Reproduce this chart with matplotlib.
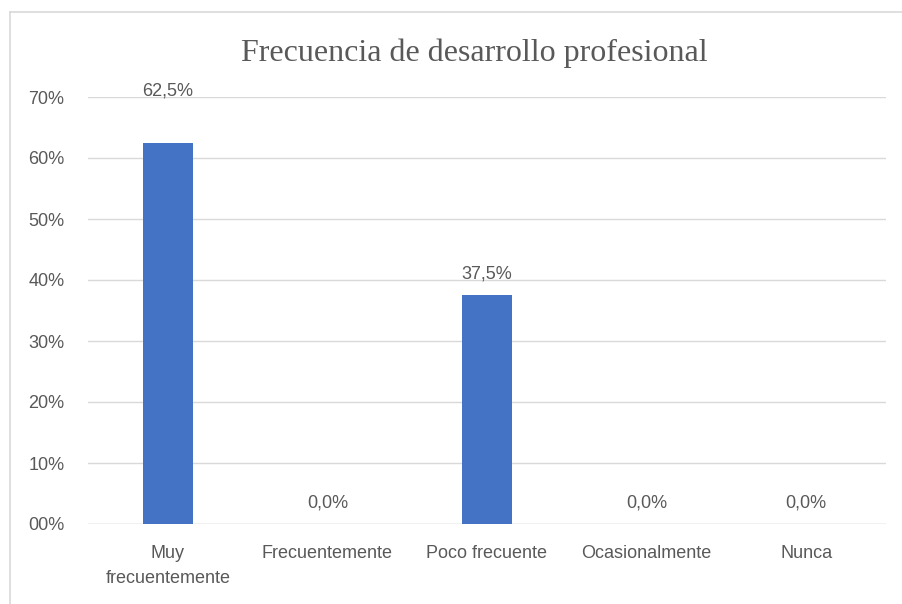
import matplotlib.pyplot as plt
from matplotlib.lines import Line2D

categorias = ['Muy\nfrecuentemente', 'Frecuentemente', 'Poco frecuente', 'Ocasionalmente', 'Nunca']
valores = [0.625, 0.0, 0.375, 0.0, 0.0]
etiquetas = ['62,5%', '0,0%', '37,5%', '0,0%', '0,0%']
yticks = [0.0, 0.1, 0.2, 0.3, 0.4, 0.5, 0.6, 0.7]
ytick_labels = ['00%', '10%', '20%', '30%', '40%', '50%', '60%', '70%']

gris = '#595959'
plt.rcParams['font.family'] = ['Liberation Sans', 'DejaVu Sans']

fig = plt.figure(figsize=(9.02, 6.04), dpi=100)
ax = fig.add_axes([88 / 902, 1 - 524 / 604, (886 - 88) / 902, (524 - 97) / 604])

x = list(range(len(categorias)))
ax.bar(x, valores, width=0.31, color='#4472C4', zorder=3)
for xi, v, lab in zip(x, valores, etiquetas):
    # la primera etiqueta queda mas alta en el original
    dy = 31 if xi == 0 else 9
    ax.annotate(lab, (xi, v), xytext=(0, dy), textcoords='offset points',
                ha='center', va='bottom', fontsize=13, color=gris)

ax.set_xlim(-0.5, len(categorias) - 0.5)
ax.set_ylim(0, 0.7)
ax.set_yticks(yticks)
ax.set_yticklabels(ytick_labels)
ax.set_xticks(x)
ax.set_xticklabels(categorias, linespacing=1.6)
ax.tick_params(axis='both', length=0, colors=gris, labelsize=13)
ax.tick_params(axis='y', pad=17)
ax.tick_params(axis='x', pad=15)
ax.grid(axis='y', color='#d9d9d9', linewidth=1, zorder=0)
for s in ax.spines.values():
    s.set_visible(False)
ax.axhline(0, color='#d9d9d9', linewidth=1, zorder=2)

fig.text(0.526, 1 - 53 / 604, 'Frecuencia de desarrollo profesional', ha='center', va='center',
         fontsize=23, color=gris, family='Liberation Serif')

# marco del grafico
fig.add_artist(Line2D([10 / 902, 10 / 902], [0, 1 - 12 / 604], transform=fig.transFigure,
                      color='#d9d9d9', linewidth=1.2))
fig.add_artist(Line2D([10 / 902, 1], [1 - 12 / 604, 1 - 12 / 604], transform=fig.transFigure,
                      color='#d9d9d9', linewidth=1.2))

fig.savefig('out.png', dpi=100)
